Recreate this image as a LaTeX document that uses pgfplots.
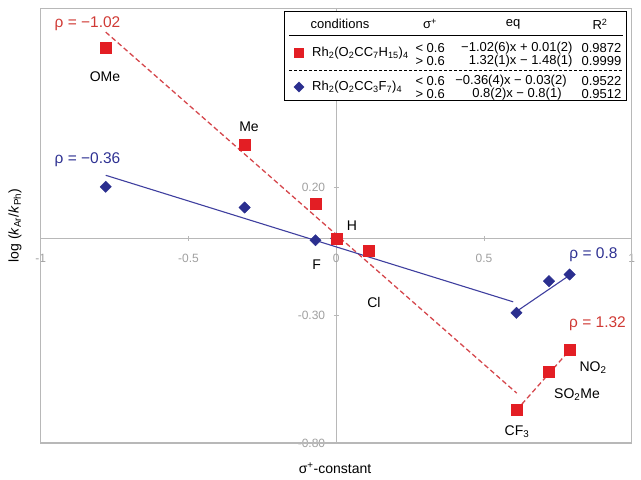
\documentclass[border=0pt]{standalone}
\usepackage{fontspec}
\setmainfont{Liberation Sans}
\usepackage{pgfplots}
\pgfplotsset{compat=1.18}
\definecolor{rsq}{HTML}{E31E24}
\definecolor{rln}{HTML}{D5474C}
\definecolor{bdm}{HTML}{2B2F8F}
\definecolor{bln}{HTML}{3F3F9F}
\definecolor{rtxt}{HTML}{D03A35}
\definecolor{btxt}{HTML}{2E3192}
\definecolor{tickgray}{HTML}{A0A0A0}
\definecolor{axgray}{HTML}{B8B8B8}
\newcommand{\lab}{\fontsize{14}{16}\selectfont}
\newcommand{\rhofont}{\fontsize{15.5}{17}\selectfont}
\newcommand{\tabfont}{\fontsize{13}{13}\selectfont}
\begin{document}
\begin{tikzpicture}
\begin{axis}[
  scale only axis, width=591pt, height=434.7pt,
  at={(40.7pt,-443pt)}, anchor=south west,
  xmin=-1, xmax=1, ymin=-0.8, ymax=0.9,
  axis lines=middle,
  axis line style={axgray, -, line width=0.9pt},
  xtick={-1,-0.5,0,0.5,1}, xticklabels={-1,-0.5,0,0.5,1},
  ytick={-0.8,-0.3,0.2}, yticklabels={-0.80,-0.30,0.20},
  hide obscured x ticks=false, hide obscured y ticks=false,
  tick style={axgray, line width=0.8pt}, major tick length=5pt,
  tick align=center,
  ticklabel style={font=\fontsize{12}{14}\selectfont, text=tickgray},
  xticklabel style={yshift=-10pt},
  yticklabel style={xshift=-5pt},
  clip=false,
]
\draw[axgray, line width=1.2pt] (rel axis cs:0,0) rectangle (rel axis cs:1,1);
% fit lines
\addplot[rln, line width=1.3pt, dash pattern=on 5pt off 3pt] coordinates {(-0.78,0.807) (0.611,-0.605)};
\addplot[rln, line width=1.3pt, dash pattern=on 5pt off 3pt] coordinates {(0.61,-0.672) (0.79,-0.437)};
\addplot[bln, line width=1.1pt] coordinates {(-0.78,0.247) (0.599,-0.248)};
\addplot[bln, line width=1.1pt] coordinates {(0.612,-0.284) (0.791,-0.143)};
% blue diamonds
\addplot[only marks, mark=square*, mark size=4pt, color=bdm,
  every mark/.append style={rotate=45}] coordinates {
  (-0.78,0.202) (-0.31,0.121) (-0.07,-0.007) (0,0)
  (0.61,-0.291) (0.72,-0.167) (0.79,-0.141)};
% red squares
\addplot[only marks, mark=square*, mark size=5.5pt, color=rsq] coordinates {
  (-0.78,0.745) (-0.31,0.367) (-0.07,0.134) (0,0) (0.11,-0.048)
  (0.61,-0.671) (0.72,-0.521) (0.79,-0.434)};
\end{axis}
% point labels
\node[text=rtxt] at (87.5pt,-24pt) {\rhofont ρ = −1.02};
\node[text=btxt] at (87.5pt,-160pt) {\rhofont ρ = −0.36};
\node[text=btxt] at (593.5pt,-255pt) {\rhofont ρ = 0.8};
\node[text=rtxt] at (597.5pt,-324pt) {\rhofont ρ = 1.32};
\node at (105pt,-77pt) {\lab OMe};
\node at (249pt,-127pt) {\lab Me};
\node at (352pt,-226pt) {\lab H};
\node at (316.7pt,-265pt) {\lab F};
\node at (374pt,-302pt) {\lab Cl};
\node at (593pt,-368pt) {\lab NO\textsubscript{2}};
\node at (577pt,-395pt) {\lab SO\textsubscript{2}Me};
\node at (517pt,-432pt) {\lab CF\textsubscript{3}};
% axis labels
\node[rotate=90] at (15pt,-225.5pt) {\lab log (\textit{k}\textsubscript{Ar}/\textit{k}\textsubscript{Ph})};
\node at (335pt,-468pt) {\lab σ\textsuperscript{+}-constant};
% table
\draw[black, line width=0.8pt, fill=white] (284pt,-11.7pt) rectangle (626.7pt,-100pt);
\draw[black, line width=0.8pt] (289pt,-35pt) -- (623pt,-35pt);
\draw[black, line width=0.8pt, dash pattern=on 3pt off 2pt] (289pt,-70.7pt) -- (623pt,-70.7pt);
\node at (340pt,-24pt) {\tabfont conditions};
\node at (430pt,-24pt) {\tabfont σ\textsuperscript{+}};
\node at (513pt,-24pt) {\tabfont eq};
\node at (600pt,-24pt) {\tabfont R\textsuperscript{2}};
\node[inner sep=0pt] at (299pt,-53pt) {\color{rsq}\rule{10pt}{10pt}};
\node[inner sep=0pt, rotate=45] at (299pt,-87pt) {\color{bdm}\rule{7.5pt}{7.5pt}};
\node[anchor=west, inner sep=0pt] at (312pt,-53pt) {\tabfont Rh\textsubscript{2}(O\textsubscript{2}CC\textsubscript{7}H\textsubscript{15})\textsubscript{4}};
\node[anchor=west, inner sep=0pt] at (312pt,-87pt) {\tabfont Rh\textsubscript{2}(O\textsubscript{2}CC\textsubscript{3}F\textsubscript{7})\textsubscript{4}};
\node[anchor=west] at (412pt,-48pt) {\tabfont < 0.6};
\node[anchor=west] at (412pt,-61pt) {\tabfont > 0.6};
\node[anchor=west] at (412pt,-81pt) {\tabfont < 0.6};
\node[anchor=west] at (412pt,-94pt) {\tabfont > 0.6};
\node[anchor=east] at (576pt,-48pt) {\tabfont −1.02(6)x + 0.01(2)};
\node[anchor=east] at (576pt,-61pt) {\tabfont 1.32(1)x − 1.48(1)};
\node at (511pt,-81pt) {\tabfont −0.36(4)x − 0.03(2)};
\node at (517pt,-94pt) {\tabfont 0.8(2)x − 0.8(1)};
\node at (601.5pt,-48pt) {\tabfont 0.9872};
\node at (601.5pt,-61pt) {\tabfont 0.9999};
\node at (601.5pt,-81pt) {\tabfont 0.9522};
\node at (601.5pt,-94pt) {\tabfont 0.9512};
\pgfresetboundingbox
\path (0pt,0pt) rectangle (641pt,-480pt);
\end{tikzpicture}
\end{document}
